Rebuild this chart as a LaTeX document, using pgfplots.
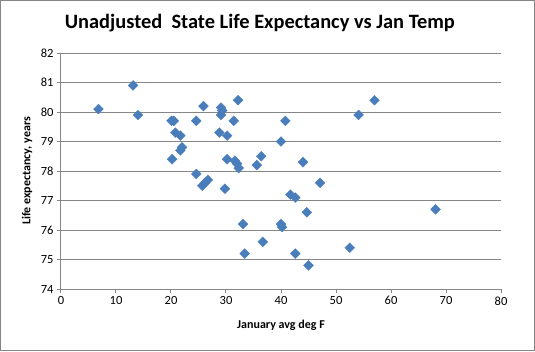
\documentclass[border=0pt]{standalone}
\usepackage{pgfplots}
\pgfplotsset{compat=1.18}
\usetikzlibrary{calc}
\usepackage{fontspec}
\setmainfont{Carlito}
\definecolor{gridgray}{HTML}{868686}
\definecolor{mkfill}{HTML}{4A7EBB}
\begin{document}
\begin{tikzpicture}[x=1bp,y=1bp]
\begin{axis}[
  width=440bp, height=236bp, scale only axis,
  xmin=0, xmax=80, ymin=74, ymax=82,
  xtick={0,10,...,80}, ytick={74,75,...,82},
  axis x line*=bottom, axis y line*=left,
  axis line style={gridgray, line width=1bp, -},
  ymajorgrids, grid style={gridgray, line width=1bp},
  tick align=outside, major tick length=4bp,
  tick style={gridgray, line width=1bp},
  /pgf/number format/assume math mode=true,
  ticklabel style={font=\fontsize{12.5bp}{14bp}\selectfont, text=black},
  title={Unadjusted\ \ State Life Expectancy vs Jan Temp},
  title style={font=\fontsize{20.4bp}{22bp}\selectfont\bfseries, at={(axis description cs:0.452,1.1)}, anchor=center},
  xlabel={January avg deg F},
  xlabel style={font=\fontsize{12bp}{14bp}\selectfont\bfseries, at={(axis description cs:0.5,-0.1525)}, anchor=center},
  ylabel={Life expectancy, years},
  ylabel style={font=\fontsize{12bp}{14bp}\selectfont\bfseries, at={(axis description cs:-0.077,0.5)}, anchor=center},
  clip=false,
]
\addplot[only marks, mark=square*, mark size=3.5bp, mark options={rotate=45, fill=mkfill, draw=mkfill, line width=0.3bp}] coordinates {
(6.8,80.1) (13.1,80.9) (14.0,79.9) (20.1,79.7) (20.5,79.7) (20.8,79.3)
(21.7,79.2) (22.0,78.8) (21.7,78.7) (20.2,78.4) (24.6,79.7) (25.9,80.2)
(29.1,80.15) (29.3,80.05) (29.1,79.9) (31.4,79.7) (28.8,79.3) (30.2,79.2)
(30.2,78.4) (31.6,78.35) (32.0,78.25) (32.3,78.1) (32.2,80.4) (24.6,77.9)
(25.7,77.5) (26.2,77.6) (26.7,77.7) (29.8,77.4) (33.1,76.2) (33.4,75.2)
(57.0,80.4) (54.1,79.9) (40.8,79.7) (40.0,79.0) (36.4,78.5) (35.6,78.2)
(44.0,78.3) (47.1,77.6) (41.7,77.2) (42.6,77.1) (44.7,76.6) (40.0,76.2)
(40.2,76.1) (36.7,75.6) (42.6,75.2) (45.0,74.8) (52.5,75.4) (68.1,76.7)
};
\coordinate (sw) at (rel axis cs:0,0);
\end{axis}
\pgfresetboundingbox
\path[use as bounding box] ($(sw)+(-61,-62)$) rectangle ($(sw)+(474,289)$);
\draw[gridgray, line width=1bp] ($(sw)+(-60.5,-61.5)$) rectangle ($(sw)+(473.5,288.5)$);
\end{tikzpicture}
\end{document}
